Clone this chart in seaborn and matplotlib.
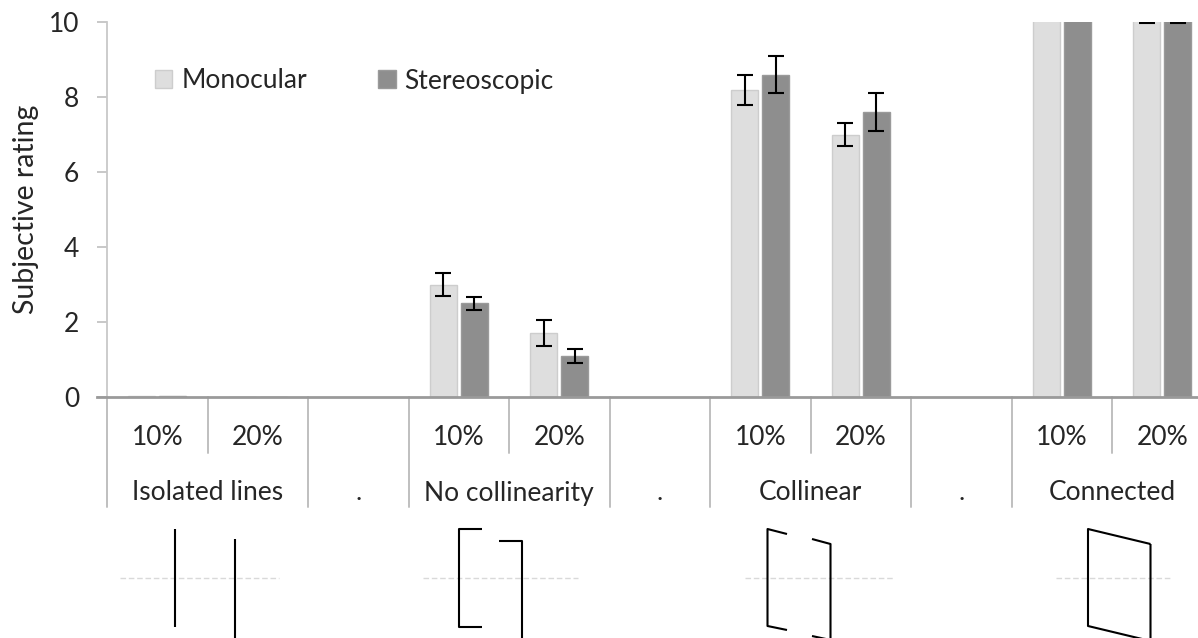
import matplotlib
matplotlib.use("Agg")
import matplotlib.pyplot as plt
import numpy as np
import pandas as pd
import seaborn as sns
from matplotlib.patches import Patch

# ---- data -------------------------------------------------------------
groups = ["Isolated lines", "No collinearity", "Collinear", "Connected"]
densities = ["10%", "20%"]
viewing = ["Monocular", "Stereoscopic"]

# mean subjective rating per group (rows) and density (columns)
mono_mean = [[0.03, 0.0], [3.0, 1.7], [8.2, 7.0], [10.6, 10.4]]
mono_err = [[0.0, 0.0], [0.3, 0.35], [0.4, 0.3], [0.3, 0.42]]
stereo_mean = [[0.03, 0.0], [2.5, 1.1], [8.6, 7.6], [10.7, 10.4]]
stereo_err = [[0.0, 0.0], [0.17, 0.19], [0.5, 0.5], [0.3, 0.42]]

y_ticks = [0, 2, 4, 6, 8, 10]
y_label = "Subjective rating"
gap_label = "."

# ---- table -----------------------------------------------------------
rows = []
errs = {}
for gi, g in enumerate(groups):
    for di, d in enumerate(densities):
        key = f"{g} {d}"
        for v, means, es in ((viewing[0], mono_mean, mono_err),
                             (viewing[1], stereo_mean, stereo_err)):
            rows.append({"slot": key, "rating": means[gi][di], "view": v})
            errs[(key, v)] = es[gi][di]
df = pd.DataFrame(rows)

# category slots: two densities per group, an empty "." slot between groups
order = []
slot_text = []
for gi, g in enumerate(groups):
    for d in densities:
        order.append(f"{g} {d}")
        slot_text.append(d)
    if gi < len(groups) - 1:
        order.append(f"gap{gi}")
        slot_text.append("")

colors = {"Monocular": "#DEDEDE", "Stereoscopic": "#8E8E8E"}
edges = {"Monocular": "#CDCDCD", "Stereoscopic": "#9A9A9A"}

# ---- figure ------------------------------------------------------------
sns.set_theme(style="white")
plt.rcParams["font.family"] = ["Lato", "DejaVu Sans"]
FS = 19

W, H = 1198, 638
fig = plt.figure(figsize=(W / 100, H / 100), dpi=100)
ax_left, ax_right, ax_top, ax_bot = 107, 1212.5, 22, 397
ax = fig.add_axes([ax_left / W, 1 - ax_bot / H,
                   (ax_right - ax_left) / W, (ax_bot - ax_top) / H])

sns.barplot(data=df, x="slot", y="rating", hue="view", order=order,
            hue_order=viewing, palette=colors, width=0.62, gap=0.13,
            errorbar=None, legend=False, ax=ax, saturation=1)

for cont, v in zip(ax.containers, viewing):
    for p in cont.patches:
        p.set_edgecolor(edges[v])
        p.set_linewidth(1.0)
        cx = p.get_x() + p.get_width() / 2
        key = order[int(round(cx))]
        e = errs[(key, v)]
        if e > 0:
            ax.errorbar(cx, p.get_height(), yerr=e, fmt="none",
                        ecolor="black", elinewidth=1.5, capsize=5.5,
                        capthick=1.5, zorder=5)

ax.set_xlim(-0.5, len(order) - 0.5)
ax.set_ylim(0, 10)
ax.set_yticks(y_ticks)
ax.set_xticks([])
ax.set_xlabel("")
ax.set_ylabel(y_label, fontsize=20.5, labelpad=7)
ax.tick_params(axis="y", which="major", left=True, length=7, width=1.2,
               color="#BFBFBF", labelsize=FS, pad=13)
for s in ("top", "right"):
    ax.spines[s].set_visible(False)
ax.spines["left"].set_color("#C8C8C8")
ax.spines["left"].set_linewidth(1.3)
ax.spines["bottom"].set_color("#9A9A9A")
ax.spines["bottom"].set_linewidth(2.0)
ax.spines["bottom"].set_bounds(-0.5 - 0.1, len(order) - 0.5)

# multi-level category axis
tr = ax.get_xaxis_transform()
sep_kw = dict(color="#BFBFBF", lw=1.4, clip_on=False, transform=tr)
row1_y, row2_y = -0.107, -0.256
short_end, full_end = -0.149, -0.293
for i, txt in enumerate(slot_text):
    if txt:
        ax.text(i, row1_y, txt, ha="center", va="center", fontsize=FS,
                transform=tr)
for gi, g in enumerate(groups):
    start = gi * 3
    ax.text(start + 0.5, row2_y, g, ha="center", va="center", fontsize=FS,
            transform=tr)
    if gi < len(groups) - 1:
        ax.text(start + 2, row2_y, gap_label, ha="center", va="center",
                fontsize=FS, transform=tr)
    ax.plot([start + 0.5, start + 0.5], [0, short_end], **sep_kw)
for b in np.arange(-0.5, len(order), 1.0):
    if (b + 0.5) % 3 in (0, 2):
        ax.plot([b, b], [0, full_end], **sep_kw)

# legend
handles = [Patch(facecolor=colors[v], edgecolor=edges[v], lw=1.0) for v in viewing]
ax.legend(handles, viewing, loc="center left",
          bbox_to_anchor=((155 - ax_left) / (ax_right - ax_left), (ax_bot - 81) / (ax_bot - ax_top)),
          ncol=2, frameon=False, fontsize=FS, handlelength=0.66,
          handleheight=0.66, handletextpad=0.34, columnspacing=2.7,
          borderpad=0, borderaxespad=0)

# stimulus sketches under each group
ov = fig.add_axes([0, 0, 1, 1], zorder=-1)
ov.set_xlim(0, W)
ov.set_ylim(H, 0)
ov.axis("off")
ln = dict(color="black", lw=1.5, solid_capstyle="butt")
dash = dict(color="#D9D9D9", lw=1.0, ls=(0, (4, 2)))
# isolated lines
ov.plot([120, 279], [578, 578], **dash)
ov.plot([175, 175], [529, 627], **ln)
ov.plot([235, 235], [539, 640], **ln)
# no collinearity
ov.plot([423, 578], [578, 578], **dash)
ov.plot([482, 459, 459, 482], [529, 529, 627, 627], **ln)
ov.plot([499, 522, 522], [541, 541, 640], **ln)
# collinear
ov.plot([745, 893], [578, 578], **dash)
ov.plot([787, 767.5, 767.5, 787], [534, 529, 626, 630], **ln)
ov.plot([812, 830.5, 830.5], [539, 544, 640], **ln)
ov.plot([812, 830.5], [636, 640], **ln)
# connected
ov.plot([1056, 1172], [578, 578], **dash)
ov.plot([1150.5, 1088, 1088, 1150.5, 1150.5],
        [544, 529, 626, 641, 544], **ln)

fig.savefig("out.png", dpi=100)
